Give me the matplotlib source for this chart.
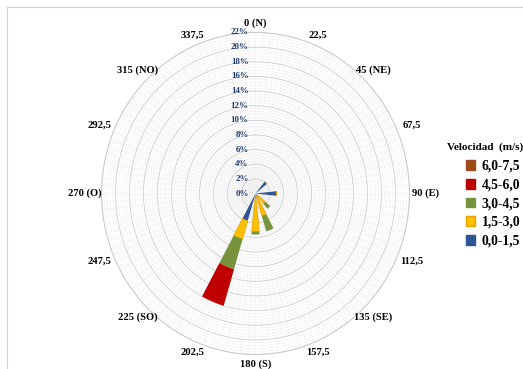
import numpy as np
import matplotlib
matplotlib.use("Agg")
import matplotlib.pyplot as plt
from matplotlib.patches import Rectangle, Patch

# Wind directions (degrees from north, clockwise) and their labels
directions_deg = [0, 22.5, 45, 67.5, 90, 112.5, 135, 157.5,
                  180, 202.5, 225, 247.5, 270, 292.5, 315, 337.5]
direction_labels = ["0 (N)", "22,5", "45 (NE)", "67,5", "90 (E)", "112,5",
                    "135 (SE)", "157,5", "180 (S)", "202,5", "225 (SO)",
                    "247,5", "270 (O)", "292,5", "315 (NO)", "337,5"]

# Frequency (%) per direction for each wind speed class
freq_00_15 = [0, 0, 2.1, 0, 3.0, 0, 0.3, 0.4, 0.4, 3.9, 0, 0, 0, 0, 0, 0]
freq_15_30 = [0, 0, 0, 0, 0, 0, 1.5, 2.8, 4.8, 2.6, 0, 0, 0, 0, 0, 0]
freq_30_45 = [0, 0, 0, 0, 0, 0, 0.9, 2.2, 0.4, 4.3, 0, 0, 0, 0, 0, 0]
freq_45_60 = [0, 0, 0, 0, 0, 0, 0, 0, 0, 5.2, 0, 0, 0, 0, 0, 0]
freq_60_75 = [0, 0, 0, 0, 0, 0, 0, 0, 0, 0, 0, 0, 0, 0, 0, 0]

speed_classes = ["0,0-1,5", "1,5-3,0", "3,0-4,5", "4,5-6,0", "6,0-7,5"]
class_colors = ["#2F5597", "#FFC000", "#77933C", "#C00000", "#9C4A1A"]
class_edges = ["none", "#E0A000", "none", "none", "none"]

radial_ticks = [0, 2, 4, 6, 8, 10, 12, 14, 16, 18, 20, 22]
radial_tick_labels = ["0%", "2%", "4%", "6%", "8%", "10%", "12%", "14%",
                      "16%", "18%", "20%", "22%"]

serif_bold = dict(family="Liberation Serif", weight="bold")

W, H = 523, 369
fig = plt.figure(figsize=(W / 100, H / 100), dpi=100)
fig.patch.set_facecolor("white")

# light chart-area frame
fig.patches.append(Rectangle((7 / W, -0.1), 1.2, (H - 7) / H + 0.1,
                             transform=fig.transFigure, fill=False,
                             edgecolor="#cfcfcf", lw=0.8))

cx, cy, rx, ry = 255.5, 193.5, 154, 161
ax = fig.add_axes([(cx - rx) / W, (H - cy - ry) / H, 2 * rx / W, 2 * ry / H],
                  projection="polar")
ax.set_aspect("auto")
ax.set_theta_zero_location("N")
ax.set_theta_direction(-1)
ax.set_ylim(0, 22)
ax.grid(False)
ax.set_xticks([])
ax.set_yticks([])
ax.spines["polar"].set_color("#c8c8c8")
ax.spines["polar"].set_linewidth(0.7)

# fine background grid
th = np.linspace(0, 2 * np.pi, 721)
for r in np.arange(0.4, 22, 0.4):
    ax.plot(th, np.full_like(th, r), color="#ececec", lw=0.35, zorder=0)
for a in np.arange(0, 360, 2.8125):
    ax.plot([np.deg2rad(a)] * 2, [0, 22], color="#eeeeee", lw=0.35, zorder=0)
for r in radial_ticks[1:]:
    ax.plot(th, np.full_like(th, r), color="#cfcfcf", lw=0.6, zorder=1)

# stacked wedges
theta = np.deg2rad(directions_deg)
width = np.deg2rad(12)
series = [freq_00_15, freq_15_30, freq_30_45, freq_45_60, freq_60_75]
bottom = np.zeros(len(directions_deg))
handles = []
for vals, col, ec, lab in zip(series, class_colors, class_edges, speed_classes):
    vals = np.asarray(vals, dtype=float)
    ax.bar(theta, vals, width=width, bottom=bottom, color=col,
           edgecolor=ec, linewidth=0.5, zorder=3)
    bottom += vals
    handles.append(Patch(facecolor=col, edgecolor=(ec if ec != "none" else col),
                         label=lab))

# radial tick labels along the north axis
for r, lab in zip(radial_ticks, radial_tick_labels):
    ax.annotate(lab, xy=(0, r), xytext=(-5, 0), textcoords="offset points",
                ha="right", va="center", fontsize=6.4, color="#1F3D6E",
                zorder=5, **serif_bold)

# direction labels, kept at a constant pixel distance from the centre
px_per_r_x, px_per_r_y = rx / 22, ry / 22
label_dist = 170.5
for d, lab in zip(directions_deg, direction_labels):
    a = np.deg2rad(d)
    r_lab = label_dist / np.hypot(px_per_r_x * np.sin(a), px_per_r_y * np.cos(a))
    ax.text(a, r_lab, lab, ha="center", va="center",
            fontsize=7.6, color="black", clip_on=False, **serif_bold)

# legend
fig.text(447 / W, 1 - 147 / H, "Velocidad  (m/s)", ha="left", va="center",
         fontsize=8, **serif_bold)
leg = fig.legend(handles[::-1], speed_classes[::-1], loc="upper left",
                 bbox_to_anchor=(459 / W, 1 - 153 / H), frameon=False,
                 borderpad=0, handlelength=0.7, handleheight=0.7,
                 handletextpad=0.45, labelspacing=0.42,
                 prop=dict(family="Liberation Serif", weight="bold", size=9.8))

fig.savefig("out.png", dpi=100)
